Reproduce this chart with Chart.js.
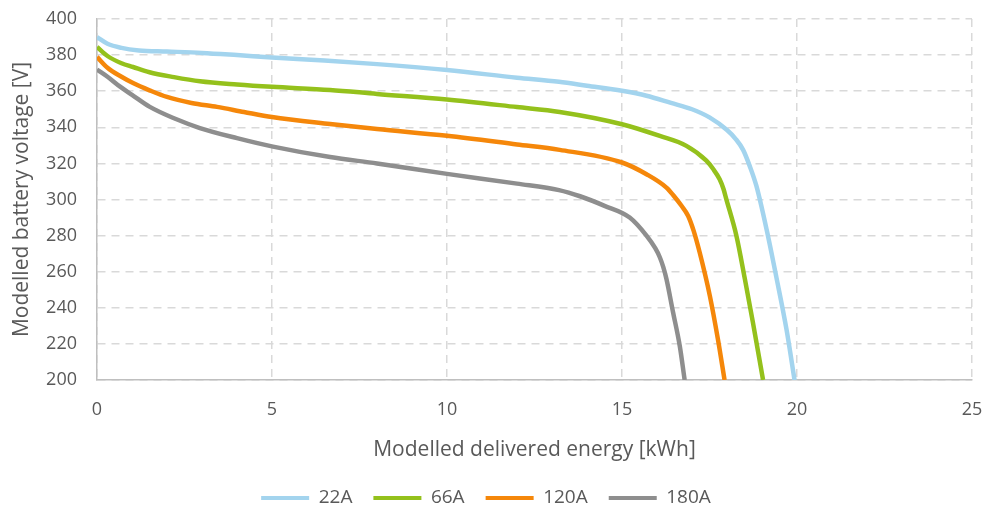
<!DOCTYPE html>
<html>
<head>
<meta charset="utf-8">
<script src="https://cdn.jsdelivr.net/npm/chart.js@4/dist/chart.umd.min.js"></script>
<style>
  html, body { margin: 0; padding: 0; background: #fff; }
</style>
</head>
<body>
<canvas id="voltageChart" width="988" height="508"></canvas>
<script>
// delivered energy [kWh] / voltage [V] for each discharge current
const energy22A = [0, 0.3, 0.7, 1.2, 2, 3, 4, 5, 6.5, 8, 10, 12, 13.2, 14, 15, 15.7, 16.4, 17, 17.5, 18, 18.25, 18.46, 18.65, 18.84, 19.13, 19.41, 19.7, 19.93];
const volts22A  = [390, 386.3, 384, 382.6, 382, 381.2, 380, 378.7, 377, 375, 371.7, 367.5, 365.2, 363, 360.2, 357.5, 353.5, 350, 345.5, 338.5, 333.5, 327.5, 318.5, 307.5, 283.5, 257, 228, 200];

const energy66A = [0, 0.3, 0.7, 1.03, 1.5, 2.2, 2.94, 4, 5, 6.66, 8, 10, 12, 13.22, 15, 16.08, 16.84, 17.41, 17.6, 17.79, 17.9, 17.98, 18.27, 18.51, 18.74, 19.03];
const volts66A  = [384.5, 379.5, 375.5, 373.4, 370.5, 367.8, 365.5, 363.7, 362.4, 360.7, 358.5, 355.4, 351.2, 348.5, 341.7, 335.2, 329.7, 321.5, 317, 311.2, 305.8, 300.2, 279.8, 256, 231.9, 200];

const energy120A = [0, 0.3, 0.7, 1.03, 1.5, 2, 2.7, 3.43, 4.2, 5, 6.66, 8, 10, 12, 13.22, 15, 15.7, 16.27, 16.46, 16.7, 16.89, 17.05, 17.22, 17.51, 17.74, 17.93];
const volts120A  = [379, 373, 368, 364.5, 360.5, 356.8, 353.5, 351.3, 348.5, 345.7, 341.8, 339, 335.3, 330.5, 327.5, 320.5, 314, 306.6, 302.5, 296.5, 290.9, 282.5, 270.6, 246.6, 222.6, 200];

const energy180A = [0, 0.3, 0.66, 1, 1.51, 2.2, 2.94, 4, 5.03, 6.66, 8, 10, 12, 13.2, 13.8, 14.5, 15.22, 15.7, 15.95, 16.08, 16.18, 16.27, 16.46, 16.65, 16.79];
const volts180A  = [372, 368, 362.5, 358, 351.3, 345, 339.6, 334, 329.3, 323.5, 320, 314.2, 308.8, 305.2, 301.8, 296.5, 290, 280, 273, 268, 262.5, 255.9, 237.4, 218.9, 200];

const seriesNames = ['22A', '66A', '120A', '180A'];
const seriesColors = ['#A3D4EE', '#94C11C', '#F5870A', '#8E8E8E'];

function toPoints(xs, ys) {
    return xs.map((x, i) => ({ x: x, y: ys[i] }));
}

const allSeries = [
    toPoints(energy22A, volts22A),
    toPoints(energy66A, volts66A),
    toPoints(energy120A, volts120A),
    toPoints(energy180A, volts180A)
];

const textColor = '#595959';
const fontFamily = '"Open Sans", "Liberation Sans", sans-serif';

const ctx = document.getElementById('voltageChart').getContext('2d');
new Chart(ctx, {
    type: 'line',
    data: {
        datasets: allSeries.map((pts, i) => ({
            label: seriesNames[i],
            data: pts,
            borderColor: seriesColors[i],
            backgroundColor: seriesColors[i],
            borderWidth: 4.5,
            pointRadius: 0,
            cubicInterpolationMode: 'monotone',
            fill: false
        }))
    },
    options: {
        responsive: false,
        animation: false,
        layout: {
            padding: { left: 0, right: 16, top: 19, bottom: 0 }
        },
        scales: {
            x: {
                type: 'linear',
                min: 0,
                max: 25,
                ticks: { stepSize: 5, color: textColor, font: { family: fontFamily, size: 18 }, padding: 19 },
                grid: { color: '#D9D9D9', lineWidth: 1.5, drawTicks: false },
                border: { color: '#BFBFBF', width: 1.5, dash: [8, 6] },
                title: {
                    display: true,
                    text: 'Modelled delivered energy [kWh]',
                    color: textColor,
                    font: { family: fontFamily, size: 21 },
                    padding: { top: 0, bottom: 5 }
                },
                afterFit: (scale) => {
                    scale.height = 87.5;
                    scale.paddingLeft = 0;
                    scale.paddingRight = 0;
                }
            },
            y: {
                min: 200,
                max: 400,
                ticks: { stepSize: 20, color: textColor, font: { family: fontFamily, size: 18 }, padding: 20 },
                grid: { color: '#D9D9D9', lineWidth: 1.5, drawTicks: false },
                border: { color: '#BFBFBF', width: 1.5, dash: [8, 6] },
                title: {
                    display: true,
                    text: 'Modelled battery voltage [V]',
                    color: textColor,
                    font: { family: fontFamily, size: 21 },
                    padding: { top: 9, bottom: 0 }
                },
                afterFit: (scale) => {
                    scale.width = 97;
                    scale.paddingTop = 0;
                    scale.paddingBottom = 0;
                }
            }
        },
        plugins: {
            legend: {
                position: 'bottom',
                maxHeight: 40.5,
                labels: {
                    boxWidth: 48,
                    boxHeight: 4,
                    padding: 21,
                    color: textColor,
                    font: { family: fontFamily, size: 19 },
                    generateLabels: (chart) =>
                        Chart.defaults.plugins.legend.labels.generateLabels(chart)
                            .map(item => Object.assign(item, { lineWidth: 0 }))
                }
            },
            tooltip: { enabled: false }
        }
    }
});
</script>
</body>
</html>
